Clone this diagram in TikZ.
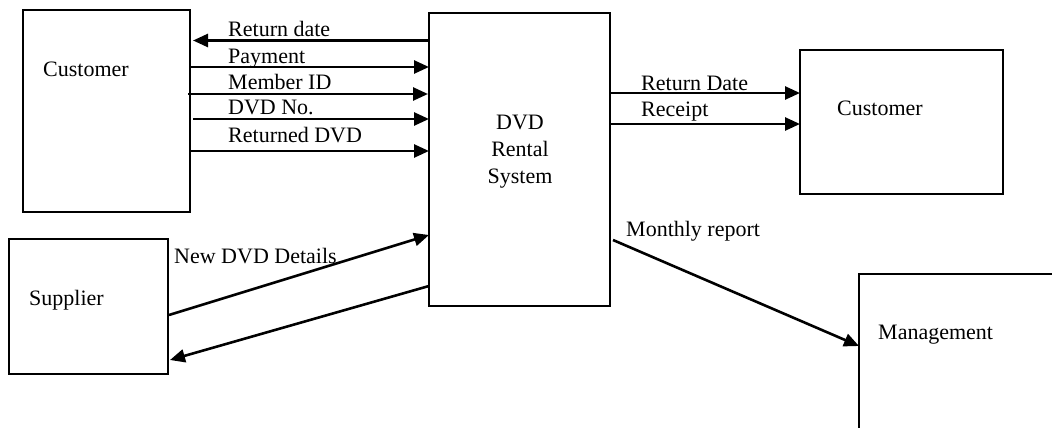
\documentclass[tikz,border=0pt]{standalone}
\usepackage{fontspec}
\setmainfont{Liberation Serif}
\usetikzlibrary{arrows.meta}
\begin{document}
\begin{tikzpicture}[x=1pt,y=-1pt,
  box/.style={draw, line width=1.6pt, inner sep=0pt, outer sep=0pt, anchor=north west},
  lbl/.style={font=\fontsize{22}{26}\selectfont, inner sep=0pt, anchor=base west},
  mid/.style={font=\fontsize{22}{26}\selectfont, inner sep=0pt, anchor=base},
  flow/.style={line width=2.6pt, -{Triangle[length=15pt,width=13pt]}}]
\useasboundingbox (0,0) rectangle (1052,428);
\clip (0,0) rectangle (1052,428);

% entities and process
\node[box, minimum width=167pt, minimum height=202pt] (cust) at (23,10) {};
\node[box, minimum width=181pt, minimum height=293pt] (sys) at (429,13) {};
\node[box, minimum width=203pt, minimum height=144pt] (cust2) at (800,50) {};
\node[box, minimum width=159pt, minimum height=135pt] (supp) at (9,239) {};
\node[box, minimum width=300pt, minimum height=250pt] (mgmt) at (859,274) {};

% box captions
\node[lbl] (custtxt) at (43,77) {Customer};
\node[mid] (systxt1) at (520,129) {DVD};
\node[mid] (systxt2) at (520,156) {Rental};
\node[mid] (systxt3) at (520,183) {System};
\node[lbl] (cust2txt) at (837,115) {Customer};
\node[lbl] (supptxt) at (29,305) {Supplier};
\node[lbl] (mgmttxt) at (878,339) {Management};

% customer <-> system flows
\draw[flow] (sys.west |- 0,40.5) -- ([xshift=3pt]cust.east |- 0,40.5);
\draw[flow] (cust.east |- 0,67) -- (sys.west |- 0,67);
\draw[flow] ([xshift=-2pt]cust.east |- 0,94) -- ([xshift=-1pt]sys.west |- 0,94);
\draw[flow] ([xshift=3pt]cust.east |- 0,119) -- (sys.west |- 0,119);
\draw[flow] (cust.east |- 0,151) -- (sys.west |- 0,151);
\node[lbl] (l1) at (228,37) {Return date};
\node[lbl] (l2) at (228,63.5) {Payment};
\node[lbl] (l3) at (228,89) {Member ID};
\node[lbl] (l4) at (228,114) {DVD No.};
\node[lbl] (l5) at (228,142) {Returned DVD};

% system -> customer
\draw[flow] (sys.east |- 0,93) -- (cust2.west |- 0,93);
\draw[flow] (sys.east |- 0,124) -- (cust2.west |- 0,124);
\node[lbl] (r1) at (641,91) {Return Date};
\node[lbl] (r2) at (641,116) {Receipt};

% supplier <-> system
\draw[flow] ([xshift=1pt]supp.east |- 0,315) -- (sys.west |- 0,235);
\draw[flow] (sys.west |- 0,286) -- ([xshift=2pt]supp.east |- 0,360);
\node[lbl] (s1) at (174,263) {New DVD Details};

% system -> management
\draw[flow] ([xshift=3pt]sys.east |- 0,240) -- (mgmt.west |- 0,346);
\node[lbl] (m1) at (626,236) {Monthly report};
\end{tikzpicture}
\end{document}
